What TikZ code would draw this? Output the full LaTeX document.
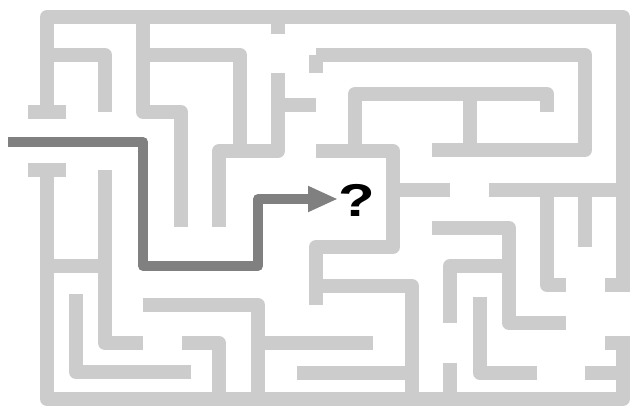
\documentclass[tikz,border=0pt]{standalone}
\usepackage{fontspec}
\setmainfont{Liberation Sans}
\usetikzlibrary{arrows.meta}
\definecolor{wallgray}{HTML}{CCCCCC}
\definecolor{pathgray}{HTML}{808080}
\begin{document}
\begin{tikzpicture}[x=1pt,y=-1pt,
  wall/.style={draw=wallgray,line width=14pt,line join=round,line cap=butt},
  route/.style={draw=pathgray,line width=10pt,line join=round,line cap=butt}]
\useasboundingbox (0,0) rectangle (636,405);
% outer walls
\draw[wall] (47,112) -- (47,17) -- (623,17) -- (623,292);
\draw[wall] (28,112) -- (66,112);
\draw[wall] (623,336) -- (623,399) -- (47,399) -- (47,170);
\draw[wall] (28,170) -- (66,170);
\draw[wall] (605,285) -- (623,285);
\draw[wall] (605,343) -- (623,343);
% inner walls
\draw[wall] (47,55) -- (105,55) -- (105,112);
\draw[wall] (143,17) -- (143,112) -- (181,112) -- (181,227);
\draw[wall] (143,55) -- (240,55) -- (240,151);
\draw[wall] (219,227) -- (219,151) -- (278,151) -- (278,73);
\draw[wall] (278,17) -- (278,34);
\draw[wall] (278,105) -- (316,105);
\draw[wall] (316,55) -- (585,55) -- (585,150) -- (432,150);
\draw[wall] (316,55) -- (316,73);
\draw[wall] (470,94) -- (470,150);
\draw[wall] (316,151) -- (393,151) -- (393,247) -- (316,247) -- (316,305);
\draw[wall] (355,151) -- (355,94) -- (547,94) -- (547,112);
\draw[wall] (393,190) -- (450,190);
\draw[wall] (489,190) -- (623,190);
\draw[wall] (547,190) -- (547,285) -- (566,285);
\draw[wall] (585,190) -- (585,247);
\draw[wall] (432,228) -- (509,228) -- (509,323) -- (566,323);
\draw[wall] (509,266) -- (450,266) -- (450,323);
\draw[wall] (480,297) -- (480,373) -- (537,373);
\draw[wall] (450,363) -- (450,399);
\draw[wall] (585,373) -- (623,373);
\draw[wall] (316,286) -- (412,286) -- (412,399);
\draw[wall] (297,373) -- (412,373);
\draw[wall] (143,305) -- (258,305) -- (258,399);
\draw[wall] (258,343) -- (373,343);
\draw[wall] (182,343) -- (219,343) -- (219,399);
\draw[wall] (105,170) -- (105,343) -- (143,343);
\draw[wall] (47,266) -- (105,266);
\draw[wall] (76,294) -- (76,372) -- (191,372);
% route
\coordinate (start) at (8,142);
\coordinate (goal) at (338,199);
\draw[route,-{Triangle[length=30pt,width=24pt]}] (start) -- (143,142) -- (143,266) -- (258,266) -- (258,199) -- (goal);
\node[font=\bfseries\fontsize{46}{46}\selectfont,xscale=1.3,inner sep=0pt] (q) at (357,200) {?};
\end{tikzpicture}
\end{document}
